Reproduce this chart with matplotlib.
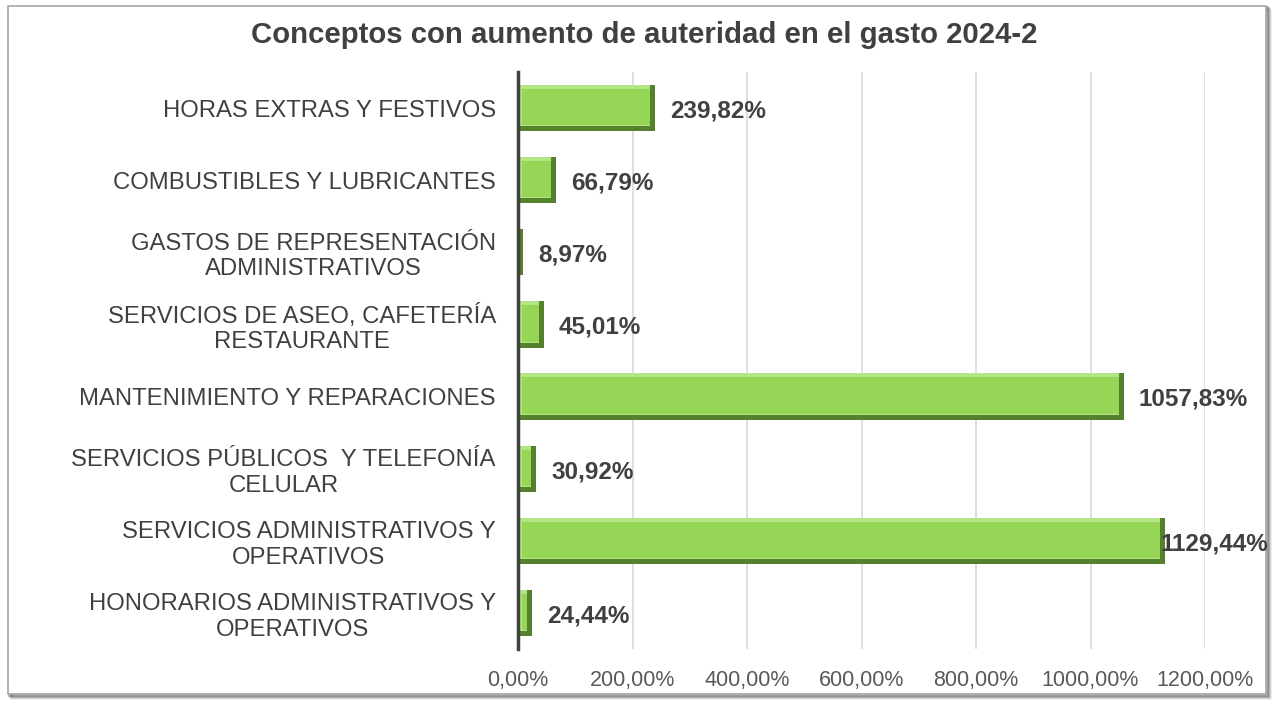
import numpy as np
import matplotlib.pyplot as plt
from matplotlib.patches import Rectangle

plt.rcParams['font.family'] = ['Liberation Sans', 'DejaVu Sans']

categorias = [
    "HORAS EXTRAS Y FESTIVOS",
    "COMBUSTIBLES Y LUBRICANTES",
    "GASTOS DE REPRESENTACIÓN\nADMINISTRATIVOS",
    "SERVICIOS DE ASEO, CAFETERÍA\nRESTAURANTE",
    "MANTENIMIENTO Y REPARACIONES",
    "SERVICIOS PÚBLICOS  Y TELEFONÍA\nCELULAR",
    "SERVICIOS ADMINISTRATIVOS Y\nOPERATIVOS",
    "HONORARIOS ADMINISTRATIVOS Y\nOPERATIVOS",
]
valores = [239.82, 66.79, 8.97, 45.01, 1057.83, 30.92, 1129.44, 24.44]
ticks = [0, 200, 400, 600, 800, 1000, 1200]

W, H = 1275, 702
fig = plt.figure(figsize=(W / 100, H / 100), dpi=100)

# frame with shadow
for i, a in enumerate([0.10, 0.18, 0.28, 0.40]):
    off = 4 - i
    fig.patches.append(Rectangle(((8 + off) / W, (8 - off) / H), 1258 / W, 688 / H,
                                 transform=fig.transFigure, facecolor='none',
                                 edgecolor=(0.3, 0.3, 0.3, a), lw=2, zorder=-2))
fig.patches.append(Rectangle((8 / W, 8 / H), 1258 / W, 688 / H, transform=fig.transFigure,
                             facecolor='white', edgecolor='#a6a6a6', lw=1.2, zorder=-1))

ax = fig.add_axes([518 / W, 1 - 649 / H, (1205 - 518) / W, (649 - 72) / H])
ax.set_facecolor('none')
y = np.arange(len(categorias))

# bevelled bars: dark base (right/bottom), light rim (top/left), face
h = 0.64
px_x = 1200 / 687
px_y = 1 / 72
h2 = h - 5 * px_y
h3 = h2 - 5 * px_y
ax.barh(y, valores, height=h, color='#55802c', zorder=3)
ax.barh(y - h / 2 + h2 / 2, [max(v - 5 * px_x, 0) for v in valores], height=h2,
        color='#b4e585', zorder=4)
ax.barh(y - h / 2 + 4 * px_y + h3 / 2, [max(v - 9 * px_x, 0) for v in valores], height=h3,
        left=[min(4 * px_x, v) for v in valores], color='#96d657', zorder=5)

label_style = dict(va='center', fontsize=17.5, fontweight='bold', color='#404040', zorder=6)
right_limit = (1268 - 518) / (1205 - 518)
for yi, v in zip(y, valores):
    txt = f"{v:.2f}%".replace('.', ',')
    if v > 1100:
        # Excel pushes this label inside the chart area
        ax.text(right_limit, yi + 0.04, txt, transform=ax.get_yaxis_transform(), ha='right',
                clip_on=False, **label_style)
    else:
        ax.annotate(txt, xy=(v, yi + 0.04), xytext=(11, 0), textcoords='offset points',
                    ha='left', **label_style)

ax.set_xlim(0, 1200)
ax.set_ylim(len(categorias) - 0.5, -0.5)
ax.set_xticks(ticks)
ax.set_xticklabels([f"{t:.2f}%".replace('.', ',') for t in ticks],
                   fontsize=15.5, color='#595959')
ax.set_yticks(y)
ax.set_yticklabels(categorias, fontsize=17.2, color='#404040', multialignment='center')
ax.tick_params(axis='y', length=0, pad=16)
ax.tick_params(axis='x', length=0, pad=15)
ax.grid(axis='x', color='#d9d9d9', lw=1.2, zorder=0)
for s in ['top', 'right', 'bottom']:
    ax.spines[s].set_visible(False)
ax.spines['left'].set_color('#404040')
ax.spines['left'].set_linewidth(2.5)
ax.spines['left'].set_zorder(7)

fig.text(644 / W, 1 - 35 / H, "Conceptos con aumento de auteridad en el gasto 2024-2",
         ha='center', va='center', fontsize=21.2, fontweight='bold', color='#404040')

fig.savefig('out.png', dpi=100)
